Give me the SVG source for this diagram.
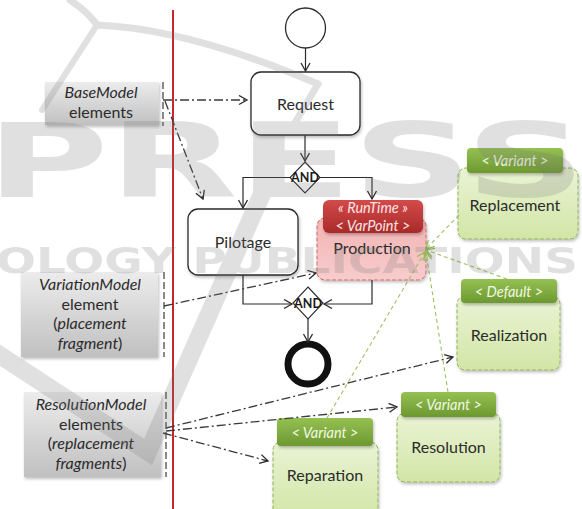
<svg xmlns="http://www.w3.org/2000/svg" width="582" height="509" viewBox="0 0 582 509">
  <style>
    .t { font-family: Lato, "Open Sans", "Liberation Sans", sans-serif; fill: #2b2b2b; text-anchor: middle; }
    .big { font-size: 16px; }
    .mdl { font-size: 16px; }
    .it { font-style: italic; }
    .act { fill: #ffffff; stroke: #2a2a2a; stroke-width: 1.3; }
    .flow { fill: none; stroke: #2a2a2a; stroke-width: 1.2; marker-end: url(#open); }
    .map { fill: none; stroke: #3a3a3a; stroke-width: 1.3; stroke-dasharray: 9 3 2 3; marker-end: url(#open); }
    .bind { fill: none; stroke: #9cc25e; stroke-width: 1.1; stroke-dasharray: 4 3; marker-end: url(#openGreen); }
    .bracket { fill: none; stroke: #4a4a4a; stroke-width: 1.3; stroke-dasharray: 7 3; }
    .mbox { fill: url(#grayGrad); filter: url(#shadow); }
    .vhead { fill: url(#greenHead); filter: url(#shadow); }
    .vbody { fill: url(#greenBody); stroke: #8db255; stroke-width: 1; stroke-dasharray: 4 2; filter: url(#shadow); }
    .vlabel { font-size: 14.5px; font-style: italic; fill: #f1f8e2; }
    .rlabel { font-size: 14.5px; font-style: italic; fill: #fbe3e3; }
    .and { fill: #ffffff; stroke: #2a2a2a; stroke-width: 1.1; }
    .andt { font-family: Lato, "Liberation Sans", sans-serif; font-size: 12.5px; font-weight: bold; fill: #1a1a1a; text-anchor: middle; }
    .logo { fill: #777777; }
    .logoline { fill: none; stroke: #777777; stroke-linecap: round; }
  </style>
  <defs>
    <marker id="open" markerUnits="userSpaceOnUse" markerWidth="12" markerHeight="12" refX="9" refY="5" orient="auto">
      <path d="M1,0.5 L9,5 L1,9.5" fill="none" stroke="#2a2a2a" stroke-width="1.3"/>
    </marker>
    <marker id="openGreen" markerUnits="userSpaceOnUse" markerWidth="12" markerHeight="12" refX="9" refY="5" orient="auto">
      <path d="M1,0.5 L9,5 L1,9.5" fill="none" stroke="#8cbf4a" stroke-width="1.2"/>
    </marker>
    <linearGradient id="grayGrad" x1="0" y1="0" x2="0" y2="1">
      <stop offset="0" stop-color="#ececec"/>
      <stop offset="1" stop-color="#c0c0c0"/>
    </linearGradient>
    <linearGradient id="redHead" x1="0" y1="0" x2="0" y2="1">
      <stop offset="0" stop-color="#d34a4a"/>
      <stop offset="1" stop-color="#a92a2a"/>
    </linearGradient>
    <linearGradient id="redBody" x1="0" y1="0" x2="0" y2="1">
      <stop offset="0" stop-color="#f3b3b3"/>
      <stop offset="1" stop-color="#f7cccc"/>
    </linearGradient>
    <linearGradient id="greenHead" x1="0" y1="0" x2="0" y2="1">
      <stop offset="0" stop-color="#95c153"/>
      <stop offset="1" stop-color="#6c9830"/>
    </linearGradient>
    <linearGradient id="greenBody" x1="0" y1="0" x2="0" y2="1">
      <stop offset="0" stop-color="#eaf3d5"/>
      <stop offset="1" stop-color="#d2e6a6"/>
    </linearGradient>
    <filter id="shadow" x="-20%" y="-20%" width="140%" height="150%">
      <feDropShadow dx="1" dy="2" stdDeviation="1.5" flood-color="#000000" flood-opacity="0.25"/>
    </filter>
  </defs>

  <rect width="582" height="509" fill="#ffffff"/>

  <!-- swimlane divider -->
  <line x1="173" y1="10" x2="173" y2="509" stroke="#c4282c" stroke-width="2"/>

  <!-- model element labels -->
  <g id="base-model">
    <rect class="mbox" x="45" y="82" width="114" height="43"/>
    <text class="t mdl it" x="101" y="98">BaseModel</text>
    <text class="t mdl" x="101" y="118">elements</text>
    <line class="bracket" x1="163" y1="82" x2="163" y2="126"/>
  </g>
  <g id="variation-model">
    <rect class="mbox" x="21" y="272" width="137" height="85"/>
    <text class="t mdl it" x="90" y="289.5">VariationModel</text>
    <text class="t mdl" x="90" y="309.5">element</text>
    <text class="t mdl" x="90" y="329">(<tspan class="it">placement</tspan></text>
    <text class="t mdl" x="90" y="349"><tspan class="it">fragment</tspan>)</text>
    <line class="bracket" x1="164" y1="272" x2="164" y2="357"/>
  </g>
  <g id="resolution-model">
    <rect class="mbox" x="24" y="392" width="137" height="85"/>
    <text class="t mdl it" x="91" y="409.5">ResolutionModel</text>
    <text class="t mdl" x="91" y="429.5">elements</text>
    <text class="t mdl" x="91" y="449">(<tspan class="it">replacement</tspan></text>
    <text class="t mdl" x="91" y="469"><tspan class="it">fragments</tspan>)</text>
    <line class="bracket" x1="166" y1="392" x2="166" y2="477"/>
  </g>

  <!-- activity flow -->
  <g id="start">
    <circle class="act" cx="305.5" cy="28" r="20"/>
  </g>
  <g id="request">
    <rect class="act" x="251" y="72" width="109" height="63" rx="10" filter="url(#shadow)"/>
    <text class="t big" x="305.5" y="109.5">Request</text>
  </g>
  <g id="and-split">
    <polygon class="and" points="305,162 320,177.5 305,193 290,177.5"/>
    <text class="andt" x="305" y="182">AND</text>
  </g>
  <g id="pilotage">
    <rect class="act" x="188" y="209" width="110" height="66" rx="10" filter="url(#shadow)"/>
    <text class="t big" x="243" y="247.5">Pilotage</text>
  </g>
  <g id="production">
    <rect x="317" y="218" width="109" height="62" rx="8" fill="url(#redBody)" stroke="#d46464" stroke-width="1" stroke-dasharray="4 2" filter="url(#shadow)"/>
    <rect x="323" y="200" width="100" height="33" rx="6" fill="url(#redHead)" filter="url(#shadow)"/>
    <text class="t rlabel" x="373" y="212.5">« RunTime »</text>
    <text class="t rlabel" x="373" y="230.5">&lt; VarPoint &gt;</text>
    <text class="t big" x="372" y="253.5">Production</text>
  </g>
  <g id="and-join">
    <polygon class="and" points="308,287 323,303 308,319 293,303"/>
    <text class="andt" x="308" y="307.5">AND</text>
  </g>
  <g id="end">
    <circle cx="308" cy="364" r="20" fill="#ffffff" stroke="#111111" stroke-width="7"/>
  </g>

  <!-- variant fragments -->
  <g id="replacement">
    <rect class="vbody" x="458" y="168" width="120" height="71" rx="8"/>
    <rect class="vhead" x="467" y="148" width="96" height="25" rx="4"/>
    <text class="t vlabel" x="515" y="166">&lt; Variant &gt;</text>
    <text class="t big" x="515" y="210.5">Replacement</text>
  </g>
  <g id="realization">
    <rect class="vbody" x="457" y="296" width="103" height="74" rx="8"/>
    <rect class="vhead" x="461" y="279" width="96" height="24" rx="4"/>
    <text class="t vlabel" x="509" y="297">&lt; Default &gt;</text>
    <text class="t big" x="509" y="340.5">Realization</text>
  </g>
  <g id="resolution">
    <rect class="vbody" x="397" y="413" width="103" height="69" rx="8"/>
    <rect class="vhead" x="401" y="392" width="95" height="25" rx="4"/>
    <text class="t vlabel" x="448.5" y="410">&lt; Variant &gt;</text>
    <text class="t big" x="448.5" y="452.5">Resolution</text>
  </g>
  <g id="reparation">
    <rect class="vbody" x="273" y="442" width="105" height="76" rx="8"/>
    <rect class="vhead" x="277" y="418" width="96" height="28" rx="4"/>
    <text class="t vlabel" x="325" y="437.5">&lt; Variant &gt;</text>
    <text class="t big" x="325" y="480.5">Reparation</text>
  </g>

  <!-- connectors -->
  <g id="connectors">
    <path class="flow" d="M305.5,48 V71"/>
    <path class="flow" d="M305,135 V161"/>
    <path class="flow" d="M290,177.5 H243 V208"/>
    <path class="flow" d="M320,177.5 H372 V199"/>
    <path class="flow" d="M243,275 V304 H292"/>
    <path class="flow" d="M372,280 V304 H324"/>
    <path class="flow" d="M308,319 V342"/>

    <path class="map" d="M163,100 H247"/>
    <path class="map" d="M165,101 L203,199"/>
    <path class="map" d="M164,306 L316,273"/>
    <path class="map" d="M166,428 L453,357"/>
    <path class="map" d="M166,431 L397,407"/>
    <path class="map" d="M163,433 L268,461"/>

    <path class="bind" d="M459,215 L426,249"/>
    <path class="bind" d="M507,279 L426,250"/>
    <path class="bind" d="M448,392 L426,252"/>
    <path class="bind" d="M327,418 L425,252"/>
  </g>

  <!-- publisher logo backdrop -->
  <g id="publisher-logo" opacity="0.22">
    <text class="logo" x="-14" y="197" font-family="DejaVu Sans" font-weight="bold" font-size="103" textLength="600" lengthAdjust="spacingAndGlyphs">PRESS</text>
    <text class="logo" x="-4" y="273" font-family="DejaVu Sans" font-weight="bold" font-size="35" textLength="582" lengthAdjust="spacingAndGlyphs">OLOGY PUBLICATIONS</text>
    <path class="logoline" stroke-width="7" d="M70,0 Q88,12 97,25 C170,28 250,55 318,84"/>
    <path class="logoline" stroke-width="6" d="M97,25 L42,110"/>
    <path class="logoline" stroke-width="7" d="M318,84 L292,128"/>
    <path class="logoline" stroke-width="18" d="M-5,352 L148,452 L262,194"/>
  </g>
</svg>
